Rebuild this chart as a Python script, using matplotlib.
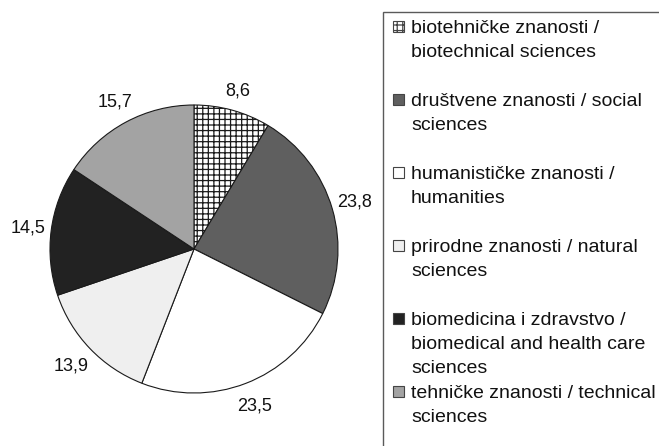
import numpy as np
import matplotlib.pyplot as plt
from matplotlib.patches import Rectangle

plt.rcParams['font.family'] = ['Liberation Sans', 'DejaVu Sans']
plt.rcParams['hatch.color'] = '#858585'
plt.rcParams['hatch.linewidth'] = 0.9

# data
values = [8.6, 23.8, 23.5, 13.9, 14.5, 15.7]
value_labels = ['8,6', '23,8', '23,5', '13,9', '14,5', '15,7']
legend_labels = [
    ['biotehničke znanosti /', 'biotechnical sciences'],
    ['društvene znanosti / social', 'sciences'],
    ['humanističke znanosti /', 'humanities'],
    ['prirodne znanosti / natural', 'sciences'],
    ['biomedicina i zdravstvo /', 'biomedical and health care', 'sciences'],
    ['tehničke znanosti / technical', 'sciences'],
]
colors = ['white', '#5f5f5f', 'white', '#efefef', '#222222', '#a3a3a3']
hatches = ['+++', None, None, None, None, None]
label_dist = [1.14, 1.16, 1.17, 1.18, 1.16, 1.16]

W, H = 659, 446
fig = plt.figure(figsize=(W / 100, H / 100), dpi=100)

# pie axes, centre (194, 249) px, radius 144 px
cx, cy, r = 194, 249, 144
ax = fig.add_axes([(cx - r) / W, (H - cy - r) / H, 2 * r / W, 2 * r / H])
wedges, _ = ax.pie(values, startangle=90, counterclock=False, colors=colors,
                   wedgeprops=dict(edgecolor='#1a1a1a', linewidth=0.8))
for w, h in zip(wedges, hatches):
    if h:
        w.set_hatch(h)
ax.set_xlim(-1, 1)
ax.set_ylim(-1, 1)
ax.set_aspect('equal')
ax.axis('off')

for w, lab, d in zip(wedges, value_labels, label_dist):
    ang = np.deg2rad((w.theta1 + w.theta2) / 2)
    ax.text(d * np.cos(ang), d * np.sin(ang), lab, ha='center', va='center',
            fontsize=13, color='#111111', clip_on=False)

# legend box
box = Rectangle((383 / W, -0.1), 0.6, (H - 12) / H + 0.1, transform=fig.transFigure,
                facecolor='none', edgecolor='#5a5a5a', linewidth=1.0)
fig.patches.append(box)

first_base = 33
pitch = 73
line_h = 23.8
for i, (lines, c, h) in enumerate(zip(legend_labels, colors, hatches)):
    base = first_base + i * pitch
    sq = Rectangle((393 / W, (H - base + 1) / H), 11 / W, 11 / H, transform=fig.transFigure,
                   facecolor=c, edgecolor='#444444', linewidth=0.8, hatch=h)
    fig.patches.append(sq)
    for j, txt in enumerate(lines):
        fig.text(411 / W, (H - base - j * line_h) / H, txt, ha='left', va='baseline',
                 fontsize=14, color='#111111')

fig.savefig('out.png', dpi=100)
